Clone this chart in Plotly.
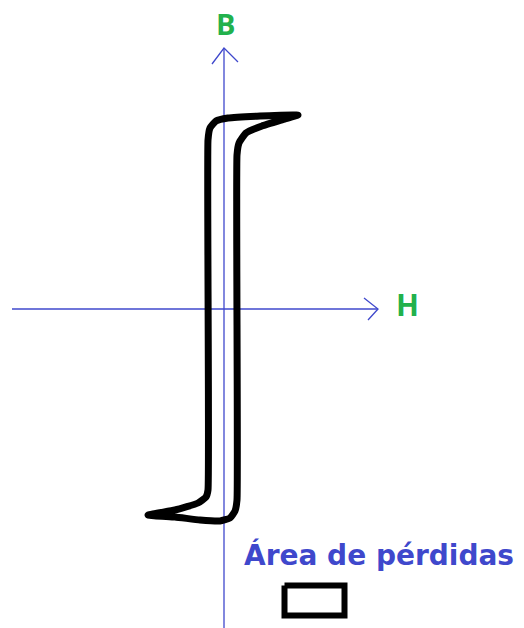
import plotly.graph_objects as go

# Hand-drawn hysteresis loop (B-H curve), origin at the axis crossing
loop_h = [74, 36, 4, -8, -14, -16, -16, -18, -26, -49, -76, -49, -24, -4, 6, 11, 13, 13, 15, 22, 38, 61, 74]
loop_b = [194, 193, 191, 188, 181, 169, -181, -188, -194, -201, -206, -208, -211, -212, -209, -202, -191, 154, 166, 176, 183, 190, 194]

# axes and arrow heads
h_axis_x = [-212, 154]
h_axis_y = [0, 0]
h_head_x = [140, 154, 144]
h_head_y = [11, 0, -11]
b_axis_x = [0, 0]
b_axis_y = [261, -330]
b_head_x = [-12, 0, 14]
b_head_y = [245, 261, 247]

# legend box for the loss area
box_h = [60.5, 120.5, 120.5, 60.5, 60.5]
box_b = [-276.5, -276.5, -306.5, -306.5, -276.5]

axis_blue = "#3f48cc"
label_green = "#22b14c"

fig = go.Figure()

for xs, ys in [(h_axis_x, h_axis_y), (h_head_x, h_head_y), (b_axis_x, b_axis_y), (b_head_x, b_head_y)]:
    fig.add_trace(go.Scatter(x=xs, y=ys, mode="lines",
                             line=dict(color=axis_blue, width=1.3), hoverinfo="skip"))

fig.add_trace(go.Scatter(x=loop_h, y=loop_b, mode="lines",
                         line=dict(color="black", width=7, shape="spline", smoothing=0.4),
                         hoverinfo="skip"))

fig.add_trace(go.Scatter(x=box_h, y=box_b, mode="lines",
                         line=dict(color="black", width=6), hoverinfo="skip"))

fig.add_annotation(x=1, y=286, text="<b>B</b>", showarrow=False,
                   font=dict(family="Open Sans", size=29, color=label_green))
fig.add_annotation(x=183, y=5, text="<b>H</b>", showarrow=False,
                   font=dict(family="Open Sans", size=30, color=label_green))
fig.add_annotation(x=155, y=-246, text="<b>Área de pérdidas</b>", showarrow=False,
                   font=dict(family="DejaVu Sans", size=28, color=axis_blue))

# page body has an 8px margin, so the plot is 8px smaller than the window
fig.update_layout(
    width=516, height=620,
    margin=dict(l=0, r=0, t=0, b=0),
    paper_bgcolor="white", plot_bgcolor="white",
    showlegend=False,
    xaxis=dict(range=[-216, 300], visible=False, fixedrange=True),
    yaxis=dict(range=[-319, 301], visible=False, fixedrange=True),
)

fig.write_html("out.html", config={"displayModeBar": False})
